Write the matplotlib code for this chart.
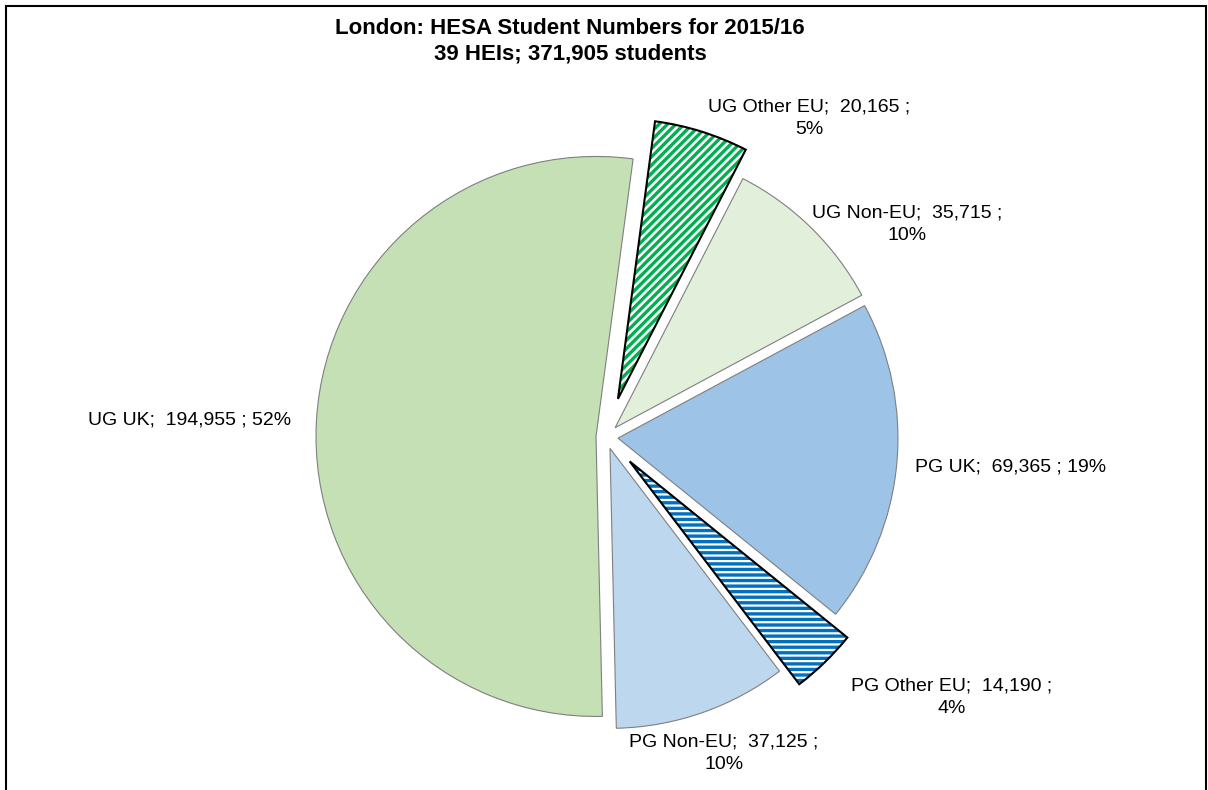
import matplotlib
matplotlib.use('Agg')
import matplotlib.pyplot as plt
from matplotlib.patches import Wedge, Rectangle

plt.rcParams['font.family'] = ['Liberation Sans', 'DejaVu Sans']
plt.rcParams['hatch.linewidth'] = 2.4

# data
categories = ['UG UK', 'UG Other EU', 'UG Non-EU', 'PG UK', 'PG Other EU', 'PG Non-EU']
students = [194955, 20165, 35715, 69365, 14190, 37125]
explode = [10, 40, 13, 12, 34, 12]  # pie offsets, in pixels (radius is 280)
colors = ['#C5E0B4', '#FFFFFF', '#E2EFDA', '#9DC3E6', '#FFFFFF', '#BDD7EE']
hatches = {'UG Other EU': ('////', '#00B050'), 'PG Other EU': ('---', '#0070C0')}
title = 'London: HESA Student Numbers for 2015/16\n39 HEIs; 371,905 students'

W, H = 1208, 790
fig = plt.figure(figsize=(W / 100, H / 100), dpi=100)
ax = fig.add_axes([0, 0, 1, 1])

cx, cy, r = 606, H - 437, 280
wedges, _ = ax.pie(students, explode=explode, colors=colors, startangle=271.3,
                   counterclock=False, center=(cx, cy), radius=r,
                   wedgeprops=dict(edgecolor='#7F7F7F', linewidth=0.8))

for w, name in zip(wedges, categories):
    if name in hatches:
        h, c = hatches[name]
        w.set_hatch(h)
        w.set_edgecolor(c)
        w.set_linewidth(0)
        ax.add_patch(Wedge(w.center, w.r, w.theta1, w.theta2, fill=False,
                           edgecolor='black', linewidth=1.5, zorder=3))

# labels
total = sum(students)
label_pos = {
    'UG UK': (190, 420, False),
    'UG Other EU': (809, 118, True),
    'UG Non-EU': (907, 224, True),
    'PG UK': (1011, 467, False),
    'PG Other EU': (952, 697, True),
    'PG Non-EU': (724, 753, True),
}
for name, v in zip(categories, students):
    x, y, wrap = label_pos[name]
    pct = f'{round(v / total * 100)}%'
    sep = ' ;\n' if wrap else ' ; '
    txt = f'{name};  {v:,}{sep}{pct}'
    ax.text(x, H - y, txt, ha='center', va='center', fontsize=14,
            linespacing=1.45, color='black')

ax.text(570, H - 41, title, ha='center', va='center', fontsize=16,
        fontweight='bold', linespacing=1.3)

ax.add_patch(Rectangle((6, -10), 1200, H - 6 + 10, fill=False,
                       edgecolor='black', linewidth=1.5, zorder=5))

ax.set_xlim(0, W)
ax.set_ylim(0, H)
ax.set_aspect('equal')
ax.axis('off')

fig.savefig('out.png', dpi=100)
